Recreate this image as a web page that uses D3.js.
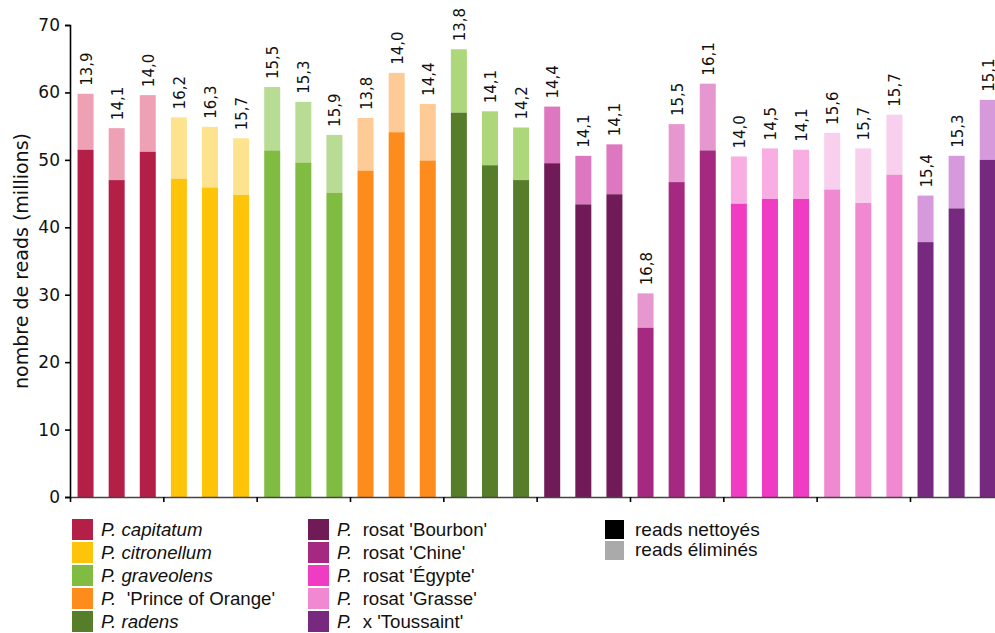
<!DOCTYPE html>
<html lang="fr">
<head>
<meta charset="UTF-8">
<title>reads par échantillon</title>
<script src="https://cdnjs.cloudflare.com/ajax/libs/d3/7.8.5/d3.min.js"></script>
<style>
  body { margin: 0; background: #fff; }
  svg { display: block; }
  .tick text { font-family: "DejaVu Sans", sans-serif; }
  .leg { font-family: "Liberation Sans", Arial, sans-serif; font-size: 18.7px; fill: #111; }
</style>
</head>
<body>
<div id="chart"></div>
<script>
// 10 groupes x 3 échantillons
const groups = ["P. capitatum", "P. citronellum", "P. graveolens", "P. 'Prince of Orange'", "P. radens",
                "P. rosat 'Bourbon'", "P. rosat 'Chine'", "P. rosat 'Égypte'", "P. rosat 'Grasse'", "P. x 'Toussaint'"];
// total des reads (millions)
const totalReads = [59.8, 54.7, 59.6, 56.3, 54.9, 53.2, 60.8, 58.6, 53.7, 56.2,
                    62.9, 58.3, 66.4, 57.2, 54.8, 57.9, 50.6, 52.3, 30.2, 55.3,
                    61.3, 50.5, 51.7, 51.5, 54.0, 51.7, 56.7, 44.7, 50.6, 58.9];
// reads nettoyés (millions)
const cleanReads = [51.5, 47.0, 51.2, 47.2, 45.9, 44.8, 51.4, 49.6, 45.1, 48.4,
                    54.1, 49.9, 57.0, 49.2, 47.0, 49.5, 43.4, 44.9, 25.1, 46.7,
                    51.4, 43.5, 44.2, 44.2, 45.6, 43.6, 47.8, 37.8, 42.8, 50.0];
// % éliminés
const pctLabels = ["13,9", "14,1", "14,0", "16,2", "16,3", "15,7", "15,5", "15,3", "15,9", "13,8",
                   "14,0", "14,4", "13,8", "14,1", "14,2", "14,4", "14,1", "14,1", "16,8", "15,5",
                   "16,1", "14,0", "14,5", "14,1", "15,6", "15,7", "15,7", "15,4", "15,3", "15,1"];
const darkColors  = ["#B41F48", "#FEC40A", "#80BC41", "#FE8C1D", "#567E2A", "#701B58", "#A52881", "#F03CC2", "#F089D2", "#77287F"];
const lightColors = ["#EEA0B4", "#FEE38F", "#B9DC95", "#FECA96", "#ACD77A", "#DD77BF", "#E697D0", "#F8AEE3", "#F8CFEC", "#D69ADC"];
const yTicks = [0, 10, 20, 30, 40, 50, 60, 70];

const width = 995, height = 633;
const x0 = 70, x1 = 1003.3, yBottom = 497, yTop = 25;

const svg = d3.select('#chart').append('svg')
  .attr('width', width)
  .attr('height', height);

const x = d3.scaleBand()
  .domain(d3.range(totalReads.length))
  .range([x0, x1])
  .paddingInner(0.486)
  .paddingOuter(0.243);

const y = d3.scaleLinear().domain([0, 70]).range([yBottom, yTop]);

const groupOf = i => Math.floor(i / 3);

// partie éliminée (au-dessus)
svg.append('g').selectAll('rect')
  .data(totalReads)
  .join('rect')
  .attr('x', (d, i) => x(i))
  .attr('width', x.bandwidth())
  .attr('y', d => y(d))
  .attr('height', (d, i) => y(cleanReads[i]) - y(d))
  .attr('fill', (d, i) => lightColors[groupOf(i)]);

// partie nettoyée
svg.append('g').selectAll('rect')
  .data(cleanReads)
  .join('rect')
  .attr('x', (d, i) => x(i))
  .attr('width', x.bandwidth())
  .attr('y', d => y(d))
  .attr('height', d => y(0) - y(d))
  .attr('fill', (d, i) => darkColors[groupOf(i)]);

// étiquettes %
svg.append('g').selectAll('text')
  .data(pctLabels)
  .join('text')
  .attr('transform', (d, i) => `translate(${x(i) + x.bandwidth() / 2 + 1},${y(totalReads[i]) - 8}) rotate(-90)`)
  .attr('dominant-baseline', 'central')
  .attr('font-family', 'DejaVu Sans, sans-serif')
  .attr('font-size', 15)
  .attr('fill', '#111')
  .text(d => d);

// axe y
const yAxis = svg.append('g')
  .attr('transform', `translate(${x0},0)`)
  .call(d3.axisLeft(y).tickValues(yTicks).tickSize(5).tickPadding(5));
yAxis.select('.domain').attr('stroke', '#000').attr('stroke-width', 1.6);
yAxis.selectAll('.tick line').attr('stroke-width', 1.6);
yAxis.selectAll('.tick text').attr('font-size', 17).attr('fill', '#111');

// axe x : traits entre les groupes
const xg = d3.scaleLinear().domain([0, groups.length]).range([x0, x1]);
const xAxis = svg.append('g')
  .attr('transform', `translate(0,${yBottom})`)
  .call(d3.axisBottom(xg).tickValues(d3.range(groups.length + 1)).tickSize(5).tickSizeOuter(0).tickFormat(''));
xAxis.select('.domain').attr('stroke', '#444').attr('stroke-width', 1.6);
xAxis.selectAll('.tick line').attr('stroke', '#000').attr('stroke-width', 1.6);

svg.append('text')
  .attr('transform', `translate(21,${(yTop + yBottom) / 2}) rotate(-90)`)
  .attr('text-anchor', 'middle')
  .attr('dominant-baseline', 'central')
  .attr('font-family', 'DejaVu Sans, sans-serif')
  .attr('font-size', 19)
  .attr('fill', '#111')
  .text('nombre de reads (millions)');

// légende des espèces
const legend = svg.append('g');
groups.forEach((g, i) => {
  const col = i < 5 ? 0 : 1;
  const row = i % 5;
  const lx = col === 0 ? 72 : 308;
  const ly = 519 + row * 23;
  legend.append('rect')
    .attr('x', lx).attr('y', ly)
    .attr('width', 21).attr('height', 21)
    .attr('fill', darkColors[i]);
  const t = legend.append('text')
    .attr('class', 'leg')
    .attr('x', lx + 29)
    .attr('y', ly + 17);
  const rest = g.slice(3);
  if (/^[a-z]/.test(rest) && !rest.startsWith('x ') && !rest.startsWith('rosat')) {
    t.append('tspan').attr('font-style', 'italic').text(g);
  } else {
    t.append('tspan').attr('font-style', 'italic').text('P.');
    t.append('tspan').attr('xml:space', 'preserve').text('  ' + rest);
  }
});

// légende reads
const readsLegend = [['reads nettoyés', '#000'], ['reads éliminés', '#aaa']];
readsLegend.forEach((r, i) => {
  legend.append('rect')
    .attr('x', 605).attr('y', 520 + i * 21)
    .attr('width', 19).attr('height', 19)
    .attr('fill', r[1]);
  legend.append('text')
    .attr('class', 'leg')
    .attr('x', 635).attr('y', 536 + i * 20)
    .style('font-size', '19px')
    .text(r[0]);
});
</script>
</body>
</html>
